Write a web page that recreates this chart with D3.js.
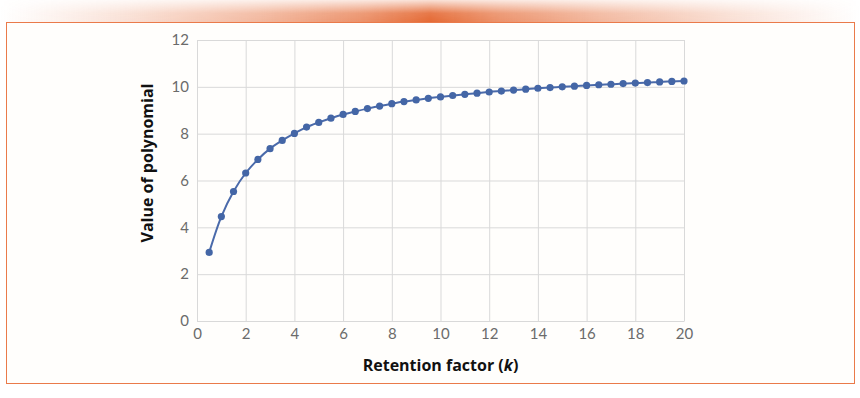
<!DOCTYPE html>
<html><head><meta charset="utf-8">
<script src="https://cdn.jsdelivr.net/npm/d3@7"></script>
<style>
html,body{margin:0;padding:0;background:#fff;}
svg{display:block;}
</style></head>
<body>
<svg id="chart" width="860" height="398"></svg>
<script>
const kValues = [0.5,1,1.5,2,2.5,3,3.5,4,4.5,5,5.5,6,6.5,7,7.5,8,8.5,9,9.5,10,
  10.5,11,11.5,12,12.5,13,13.5,14,14.5,15,15.5,16,16.5,17,17.5,18,18.5,19,19.5,20];
const polyValues = [2.93,4.46,5.53,6.32,6.9,7.36,7.71,8.01,8.28,8.48,8.66,8.82,8.95,9.07,9.18,9.28,9.37,9.44,9.51,9.57,
  9.63,9.68,9.73,9.78,9.82,9.86,9.9,9.94,9.97,10.0,10.03,10.06,10.09,10.11,10.14,10.16,10.18,10.21,10.23,10.25];
const xTicks = [0,2,4,6,8,10,12,14,16,18,20];
const yTicks = [0,2,4,6,8,10,12];
const xTitle = "Retention factor (";
const xTitleItalic = "k";
const yTitle = "Value of polynomial";

const svg = d3.select("#chart");
const defs = svg.append("defs");

// top glow bar
const hg = defs.append("linearGradient").attr("id","hg");
[[0,0],[0.04,0.05],[0.15,0.2],[0.3,0.45],[0.42,0.7],[0.5,0.95],[0.58,0.7],[0.7,0.45],[0.85,0.2],[0.96,0.05],[1,0]].forEach(([o,a])=>
  hg.append("stop").attr("offset",o).attr("stop-color","#e3622a").attr("stop-opacity",a));
const vg = defs.append("linearGradient").attr("id","vg").attr("x1",0).attr("y1",0).attr("x2",0).attr("y2",1);
vg.append("stop").attr("offset",0).attr("stop-color","#fff").attr("stop-opacity",0.2);
vg.append("stop").attr("offset",0.6).attr("stop-color","#fff").attr("stop-opacity",0.9);
vg.append("stop").attr("offset",1).attr("stop-color","#fff").attr("stop-opacity",1);
const mask = defs.append("mask").attr("id","vm");
mask.append("rect").attr("x",0).attr("y",0).attr("width",860).attr("height",22).attr("fill","url(#vg)");
svg.append("rect").attr("x",0).attr("y",0).attr("width",860).attr("height",22)
  .attr("fill","url(#hg)").attr("mask","url(#vm)");

// frame
svg.append("rect").attr("x",6.5).attr("y",22.5).attr("width",848).attr("height",361)
  .attr("fill","#fffefc").attr("stroke","#ea7a4a").attr("stroke-width",1);

const x = d3.scaleLinear().domain([0,20]).range([197,684]);
const y = d3.scaleLinear().domain([0,12]).range([321,40]);

// grid
const g = svg.append("g");
g.selectAll("line.v").data(xTicks).join("line")
  .attr("x1",d=>x(d)+0.5).attr("x2",d=>x(d)+0.5).attr("y1",y(0)).attr("y2",y(12))
  .attr("stroke","#d9d9d9").attr("stroke-width",1);
g.selectAll("line.h").data(yTicks).join("line")
  .attr("x1",x(0)).attr("x2",x(20)+0.5).attr("y1",d=>y(d)+0.5).attr("y2",d=>y(d)+0.5)
  .attr("stroke","#d9d9d9").attr("stroke-width",1);

// axes (text only)
const xa = svg.append("g").attr("transform",`translate(0,${y(0)})`)
  .call(d3.axisBottom(x).tickValues(xTicks).tickSize(0).tickPadding(7).tickFormat(d3.format("d")));
const ya = svg.append("g").attr("transform",`translate(${x(0)},0)`)
  .call(d3.axisLeft(y).tickValues(yTicks).tickSize(0).tickPadding(8).tickFormat(d3.format("d")));
[xa,ya].forEach(a=>{
  a.select(".domain").remove();
  a.selectAll("text").attr("fill","#6b6b6b").style("font-family","Lato, 'Open Sans', sans-serif").style("font-size","15px");
});

// line
const pts = kValues.map((k,i)=>[k,polyValues[i]]);
svg.append("path").datum(pts)
  .attr("d",d3.line().x(d=>x(d[0])).y(d=>y(d[1])).curve(d3.curveCatmullRom))
  .attr("fill","none").attr("stroke","#4a6aaa").attr("stroke-width",2);
svg.append("g").selectAll("circle").data(pts).join("circle")
  .attr("cx",d=>x(d[0])).attr("cy",d=>y(d[1])).attr("r",3.6).attr("fill","#4466a6");

// titles
const titleFont = "'Open Sans', Lato, sans-serif";
const xt = svg.append("text").attr("x",(x(0)+x(20))/2).attr("y",371).attr("text-anchor","middle")
  .style("font-family",titleFont).style("font-size","16px").style("font-weight","bold").attr("fill","#111");
xt.append("tspan").text(xTitle);
xt.append("tspan").text(xTitleItalic).style("font-style","italic");
xt.append("tspan").text(")");

svg.append("text").attr("transform","translate(153,163) rotate(-90)").attr("text-anchor","middle")
  .style("font-family",titleFont).style("font-size","16px").style("font-weight","bold").attr("fill","#111")
  .text(yTitle);
</script>
</body></html>
